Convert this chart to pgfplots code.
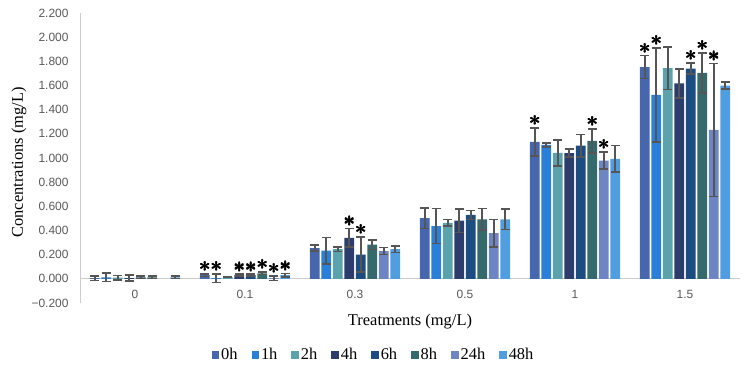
\documentclass[border=0pt]{standalone}
\usepackage{fontspec}
\setmainfont{Liberation Serif}
\newfontfamily\ticksans{Liberation Sans}
\usepackage{pgfplots}
\usepackage{pgfplotstable}
\pgfplotsset{compat=1.18}

\definecolor{cA}{RGB}{70,102,174}
\definecolor{cB}{RGB}{42,128,216}
\definecolor{cC}{RGB}{90,163,172}
\definecolor{cD}{RGB}{44,60,108}
\definecolor{cE}{RGB}{27,76,130}
\definecolor{cF}{RGB}{52,106,108}
\definecolor{cG}{RGB}{110,133,196}
\definecolor{cH}{RGB}{80,157,224}
\definecolor{errgray}{RGB}{85,85,85}
\definecolor{axisgray}{RGB}{205,205,205}
\definecolor{ticktext}{RGB}{89,89,89}

% mean concentration (v) and standard deviation (e) per sampling time;
% s repeats the deviation where the value is significant, -1 where it is not
\pgfplotstableread{
x v0    e0    s0    v1    e1    s1    v2    e2    s2 v4    e4    s4    v6    e6    s6    v8    e8    s8    v24   e24   s24   v48   e48   s48
0 0.005 0.018 -1    0.012 0.035 -1    0.010 0.018 -1 0.006 0.024 -1    0.012 0.010 -1    0.012 0.010 -1    nan   nan   -1    0.012 0.010 -1
1 0.030 0.012 0.012 0.005 0.035 0.035 0.015 0.005 -1 0.030 0.008 0.008 0.030 0.008 0.008 0.045 0.010 0.010 0.005 0.020 0.020 0.030 0.015 0.015
2 0.254 0.024 -1    0.234 0.109 -1    0.245 0.018 -1 0.340 0.077 0.077 0.201 0.146 0.146 0.283 0.040 -1    0.230 0.028 -1    0.246 0.028 -1
3 0.502 0.085 -1    0.436 0.145 -1    0.463 0.027 -1 0.482 0.097 -1    0.529 0.037 -1    0.493 0.088 -1    0.378 0.113 -1    0.493 0.085 -1
4 1.133 0.115 0.115 1.108 0.016 -1    1.042 0.107 -1 1.040 0.033 -1    1.103 0.093 -1    1.141 0.100 0.100 0.979 0.070 0.070 0.993 0.110 -1
5 1.752 0.095 0.095 1.522 0.390 0.390 1.743 0.175 -1 1.618 0.120 -1    1.740 0.045 0.045 1.704 0.165 0.165 1.232 0.550 0.550 1.599 0.030 -1
}\conc

% significance asterisk, set three times with a small offset to thicken it
\newcommand\staronce{{\fontsize{20}{20}\selectfont\boldmath$\ast$}}
\newcommand\starmark{\rlap{\staronce}\rlap{\kern0.45pt\staronce}\kern0.22pt\raisebox{0.35pt}{\staronce}}

% one bar series: column suffix, fill colour
\newcommand\bars[2]{%
  \addplot[fill=#2, draw=none,
    point meta=explicit symbolic,
    nodes near coords={\ifdim\pgfplotspointmeta pt<0pt \else\starmark\fi},
    nodes near coords style={anchor=south, inner sep=0pt,
      shift={(axis direction cs:0,\pgfplotspointmeta)}, yshift=2bp},
    error bars/.cd, y dir=both, y explicit,
    error bar style={line width=1.6bp, errgray},
    error mark options={rotate=90, mark size=4.6bp, line width=1.6bp, errgray}]
    table[x=x, y=v#1, y error=e#1, meta=s#1] {\conc};
}

\begin{document}
\begin{tikzpicture}
\useasboundingbox (-80bp,-62bp) rectangle (667bp,303bp);
\begin{axis}[
  at={(0,0)}, anchor=south west,
  scale only axis, width=660bp, height=290bp,
  xmin=-0.5, xmax=5.5, ymin=-0.2, ymax=2.2,
  axis y line=left, axis x line=middle,
  axis line style={-, draw=axisgray, line width=0.9bp},
  ybar=1.8bp, bar width=9.7bp,
  xtick={0,1,2,3,4,5}, xticklabels={0,0.1,0.3,0.5,1,1.5},
  ytick={-0.2,0,0.2,0.4,0.6,0.8,1,1.2,1.4,1.6,1.8,2,2.2},
  yticklabels={−0.200,0.000,0.200,0.400,0.600,0.800,1.000,1.200,1.400,1.600,1.800,2.000,2.200},
  major tick length=0pt,
  tick label style={font=\ticksans\fontsize{12}{12}\selectfont, text=ticktext},
  yticklabel style={xshift=-8bp},
  xticklabel style={anchor=north, text height=16bp},
  xlabel={Treatments (mg/L)}, ylabel={Concentrations (mg/L)},
  label style={font=\fontsize{16.5}{16.5}\selectfont},
  xlabel style={at={(axis description cs:0.5,0)}, anchor=north, yshift=-8bp},
  ylabel style={at={(axis description cs:-0.0925,0.485)}, anchor=center},
  legend columns=-1,
  legend style={draw=none, at={(0.4447,-0.1793)}, anchor=center,
    font=\fontsize{16.5}{16.5}\selectfont,
    /tikz/every even column/.append style={column sep=12bp}},
  legend image code/.code={\fill[#1, draw=none] (0bp,-3.5bp) rectangle (7.5bp,4bp);},
]
\bars{0}{cA}
\bars{1}{cB}
\bars{2}{cC}
\bars{4}{cD}
\bars{6}{cE}
\bars{8}{cF}
\bars{24}{cG}
\bars{48}{cH}
\legend{0h,1h,2h,4h,6h,8h,24h,48h}
\end{axis}
\end{tikzpicture}
\end{document}
